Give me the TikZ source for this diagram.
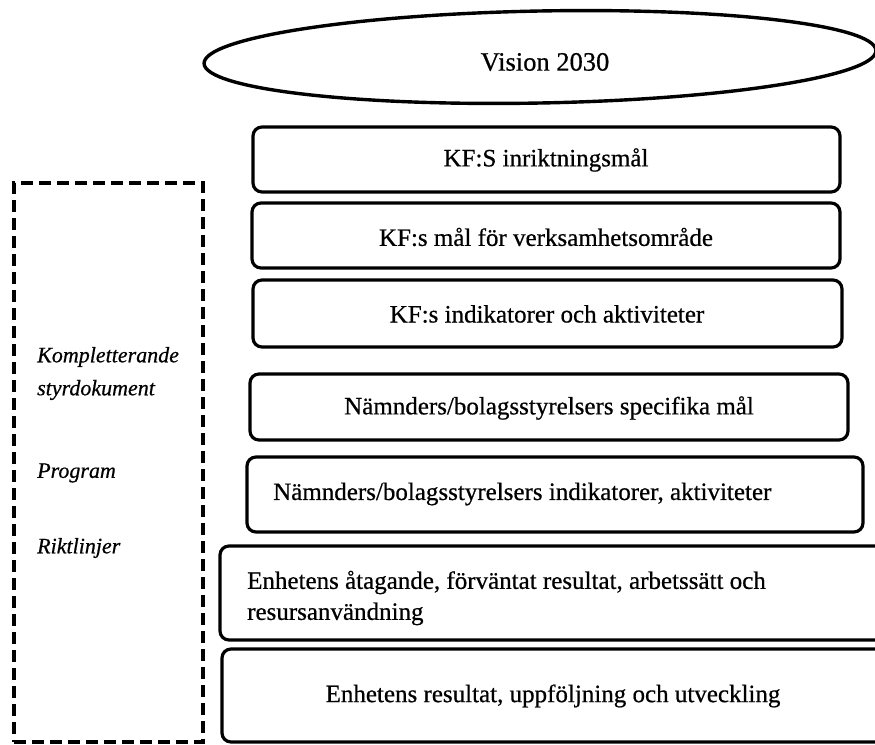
\documentclass[tikz,border=0pt]{standalone}
\usepackage{fontspec}
\setmainfont{Liberation Serif}[FakeBold=0.6]
\usetikzlibrary{shapes.geometric}
\begin{document}
\begin{tikzpicture}[x=1pt,y=-1pt,
  stage/.style={draw=black, line width=3.2pt, rounded corners=9pt, inner sep=0pt},
  lbl/.style={font=\fontsize{25}{31}\selectfont, inner sep=0pt},
  sidelbl/.style={font=\itshape\fontsize{22}{26}\selectfont, inner sep=0pt, anchor=west},
  dashbox/.style={draw=black, line width=3.2pt, dash pattern=on 12pt off 6pt, inner sep=0pt},
  visionshape/.style={draw=black, ellipse, line width=3.4pt, inner sep=0pt}
  ]
\useasboundingbox (0,0) rectangle (875,744);
% vision ellipse
\node[visionshape, minimum width=672pt, minimum height=92pt, rotate=1.1] (vision) at (540,57) {};
\node[lbl, font=\fontsize{26.5}{31}\selectfont] (visiontext) at (545,62) {Vision 2030};
% stacked boxes
\node[stage, minimum width=587pt, minimum height=65pt] (b1) at (546.5,159.5) {};
\node[lbl] (t1) at (546,160) {KF:S inriktningsmål};
\node[stage, minimum width=588pt, minimum height=65pt] (b2) at (546,235.5) {};
\node[lbl] (t2) at (546,237) {KF:s mål för verksamhetsområde};
\node[stage, minimum width=589pt, minimum height=67pt] (b3) at (547.5,313.5) {};
\node[lbl] (t3) at (547,314) {KF:s indikatorer och aktiviteter};
\node[stage, minimum width=598pt, minimum height=66pt] (b4) at (549,407) {};
\node[lbl] (t4) at (549,408) {Nämnders/bolagsstyrelsers specifika mål};
\node[stage, minimum width=616pt, minimum height=75pt] (b5) at (555,494.5) {};
\node[lbl, anchor=west] (t5) at (273,494) {Nämnders/bolagsstyrelsers indikatorer, aktiviteter};
\node[stage, minimum width=675pt, minimum height=94pt] (b6) at (557.5,593) {};
\node[lbl, anchor=west, align=left] (t6) at (247,598) {Enhetens åtagande, förväntat resultat, arbetssätt och\\resursanvändning};
\node[stage, minimum width=673pt, minimum height=93pt] (b7) at (558.5,695.5) {};
\node[lbl] (t7) at (553,696) {Enhetens resultat, uppföljning och utveckling};
% dashed side box
\node[dashbox, minimum width=189pt, minimum height=559pt] (side) at (108.5,462.5) {};
\node[sidelbl] (s1) at (37,357) {Kompletterande};
\node[sidelbl] (s2) at (37,390) {styrdokument};
\node[sidelbl] (s3) at (37,473) {Program};
\node[sidelbl] (s4) at (37,548) {Riktlinjer};
\end{tikzpicture}
\end{document}
